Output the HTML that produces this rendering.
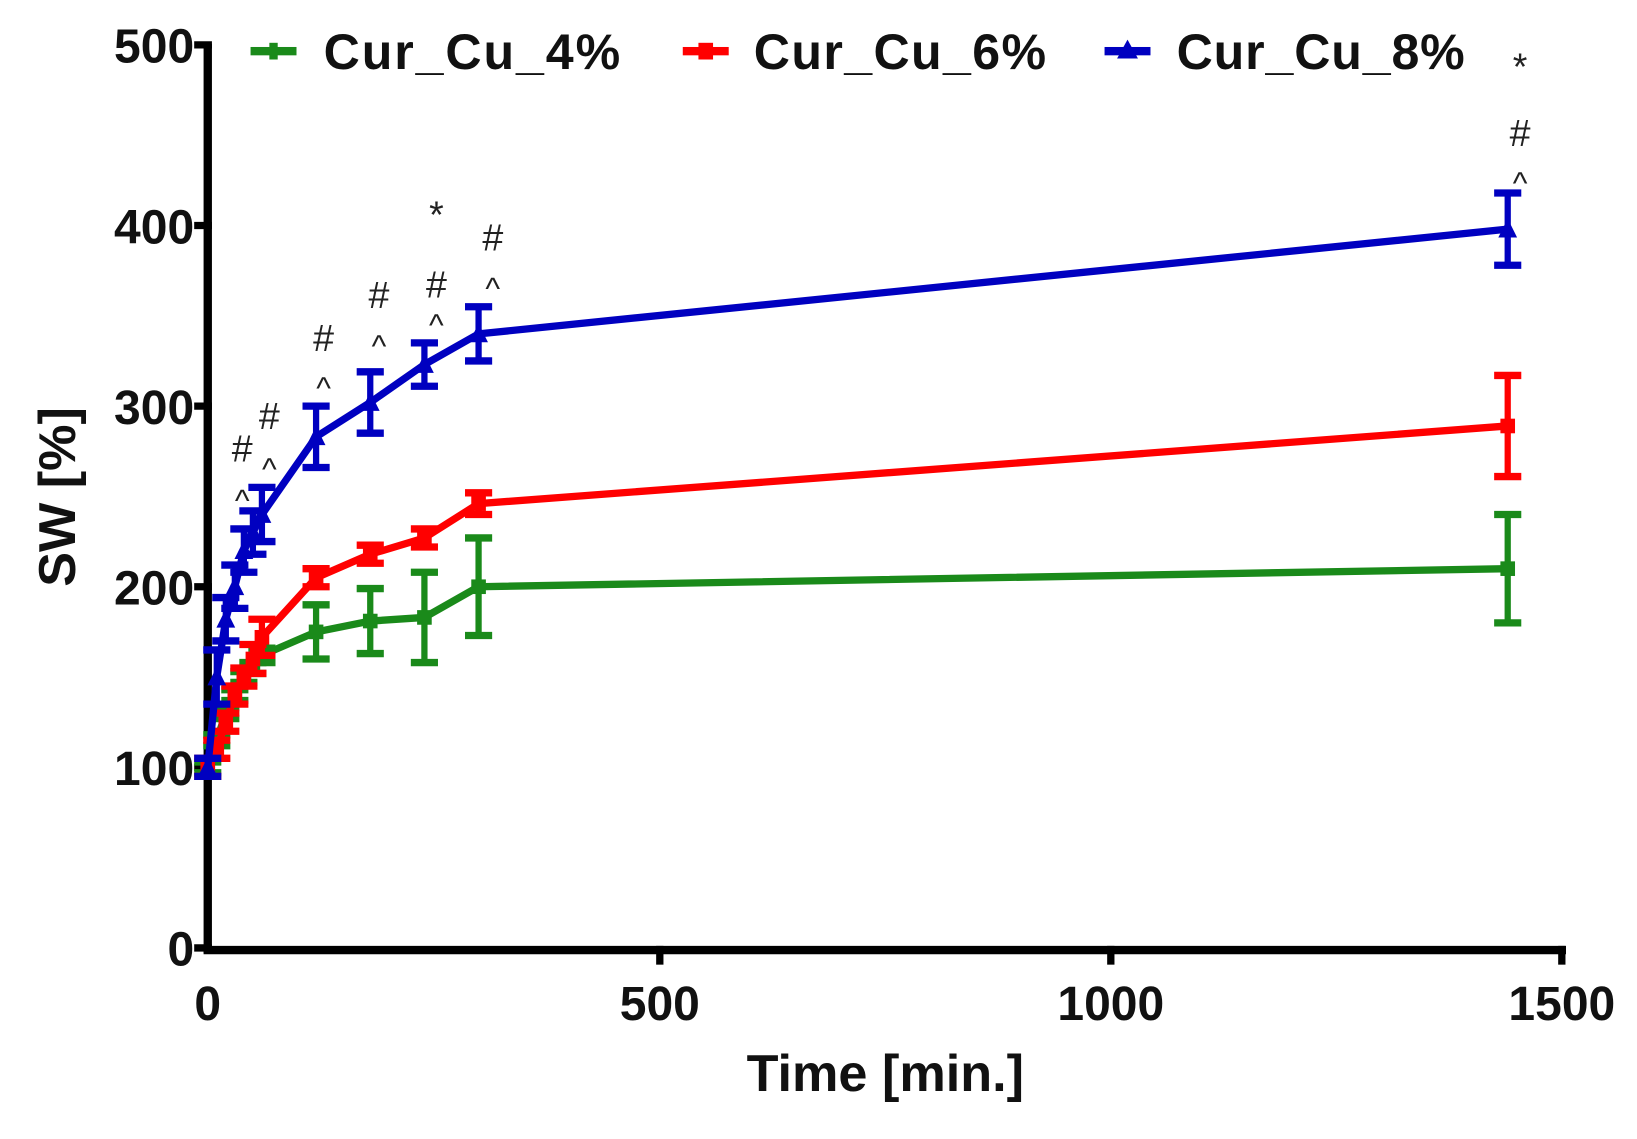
<!DOCTYPE html>
<html><head><meta charset="utf-8"><style>
html,body{margin:0;padding:0;background:#fff;}
svg{display:block;}
text{font-family:"Liberation Sans",Arial,sans-serif;font-weight:bold;}
</style></head><body>
<svg id="s" width="1637" height="1139" viewBox="0 0 1637 1139" xmlns="http://www.w3.org/2000/svg">
<rect width="1637" height="1139" fill="#fff"/>
<g transform="scale(1.044)">
<line x1="199" y1="42" x2="199" y2="913" stroke="#000" stroke-width="8"/>
<line x1="195" y1="910" x2="1500" y2="910" stroke="#000" stroke-width="8"/>
<g stroke="#000" stroke-width="7">
<line x1="186" y1="43" x2="203" y2="43"/>
<line x1="186" y1="216" x2="203" y2="216"/>
<line x1="186" y1="389" x2="203" y2="389"/>
<line x1="186" y1="562" x2="203" y2="562"/>
<line x1="186" y1="735" x2="203" y2="735"/>
<line x1="186" y1="908" x2="203" y2="908"/>
<line x1="632" y1="906" x2="632" y2="924"/>
<line x1="1064" y1="906" x2="1064" y2="924"/>
<line x1="1496" y1="906" x2="1496" y2="924"/>
</g>
<g font-size="46" text-anchor="end" fill="#111">
<text x="186" y="60">500</text>
<text x="186" y="233">400</text>
<text x="186" y="406">300</text>
<text x="186" y="579">200</text>
<text x="186" y="752">100</text>
<text x="186" y="925">0</text>
</g>
<g font-size="46" text-anchor="middle" fill="#111">
<text x="199" y="977">0</text>
<text x="632" y="977">500</text>
<text x="1064" y="977">1000</text>
<text x="1496" y="977">1500</text>
</g>
<text x="848" y="1045" font-size="50" text-anchor="middle" fill="#111">Time [min.]</text>
<text transform="translate(72,476) rotate(-90)" font-size="50" text-anchor="middle" fill="#111">SW [%]</text>
<g font-size="48" fill="#111">
<rect x="240" y="45" width="44" height="8" fill="#1a8a1a"/><rect x="258" y="41" width="8" height="16" fill="#1a8a1a"/>
<text x="310" y="66" textLength="284">Cur_Cu_4%</text>
<rect x="654" y="45" width="44" height="8" fill="#f00"/><rect x="669" y="41" width="14" height="16" fill="#f00"/>
<text x="722" y="66" textLength="280">Cur_Cu_6%</text>
<rect x="1058" y="45" width="44" height="8" fill="#0000c0"/><polygon points="1070,56 1080,38 1090,56" fill="#0000c0"/>
<text x="1127" y="66" textLength="276">Cur_Cu_8%</text>
</g>
<g id="data"></g>
<g font-size="36" fill="#222" text-anchor="middle" style="font-weight:normal">
<text x="232" y="442" style="font-weight:normal">#</text><text x="232" y="490" font-size="30" style="font-weight:normal">^</text>
<text x="258" y="411" style="font-weight:normal">#</text><text x="258" y="460" font-size="30" style="font-weight:normal">^</text>
<text x="310" y="336" style="font-weight:normal">#</text><text x="310" y="382" font-size="30" style="font-weight:normal">^</text>
<text x="363" y="295" style="font-weight:normal">#</text><text x="363" y="342" font-size="30" style="font-weight:normal">^</text>
<text x="418" y="218" style="font-weight:normal">*</text><text x="418" y="285" style="font-weight:normal">#</text><text x="418" y="322" font-size="30" style="font-weight:normal">^</text>
<text x="472" y="240" style="font-weight:normal">#</text><text x="472" y="287" font-size="30" style="font-weight:normal">^</text>
<text x="1456" y="76" style="font-weight:normal">*</text><text x="1456" y="140" style="font-weight:normal">#</text><text x="1456" y="186" font-size="30" style="font-weight:normal">^</text>
</g>
</g>
</svg>
<script>
var T=[0,10,20,30,40,50,60,120,180,240,300,1440];
function X(t){return 199+0.8647*t;}
function Y(v){return 908-1.73*v;}
var S=[
 {c:"#1a8a1a",v:[100,115,130,140,150,155,162,175,181,183,200,210],e:[3,3,3,3,3,3,4,15,18,25,27,30],m:"sq"},
 {c:"#f00",v:[100,110,125,140,150,160,172,205,218,227,246,289],e:[5,5,5,5,5,8,10,5,5,5,6,28],m:"sq"},
 {c:"#0000c0",v:[100,150,182,200,220,230,240,283,302,323,340,398],e:[5,15,12,12,12,12,15,17,17,12,15,20],m:"tri"}
];
var g=document.getElementById("data"),h="";
S.forEach(function(s){
 var p=T.map(function(t,i){return X(t).toFixed(1)+","+Y(s.v[i]).toFixed(1)}).join(" ");
 h+='<polyline points="'+p+'" fill="none" stroke="'+s.c+'" stroke-width="7" stroke-linejoin="round"/>';
 T.forEach(function(t,i){
  var x=X(t),y=Y(s.v[i]),d=s.e[i]*1.73;
  h+='<line x1="'+x+'" y1="'+(y-d)+'" x2="'+x+'" y2="'+(y+d)+'" stroke="'+s.c+'" stroke-width="6"/>';
  h+='<line x1="'+(x-13)+'" y1="'+(y-d)+'" x2="'+(x+13)+'" y2="'+(y-d)+'" stroke="'+s.c+'" stroke-width="7"/>';
  h+='<line x1="'+(x-13)+'" y1="'+(y+d)+'" x2="'+(x+13)+'" y2="'+(y+d)+'" stroke="'+s.c+'" stroke-width="7"/>';
  if(s.m=="tri") h+='<polygon points="'+(x-9)+','+(y+8)+' '+x+','+(y-10)+' '+(x+9)+','+(y+8)+'" fill="'+s.c+'"/>';
  else h+='<rect x="'+(x-7)+'" y="'+(y-7)+'" width="14" height="14" fill="'+s.c+'"/>';
 });
});
g.innerHTML=h;
</script>
</body></html>
